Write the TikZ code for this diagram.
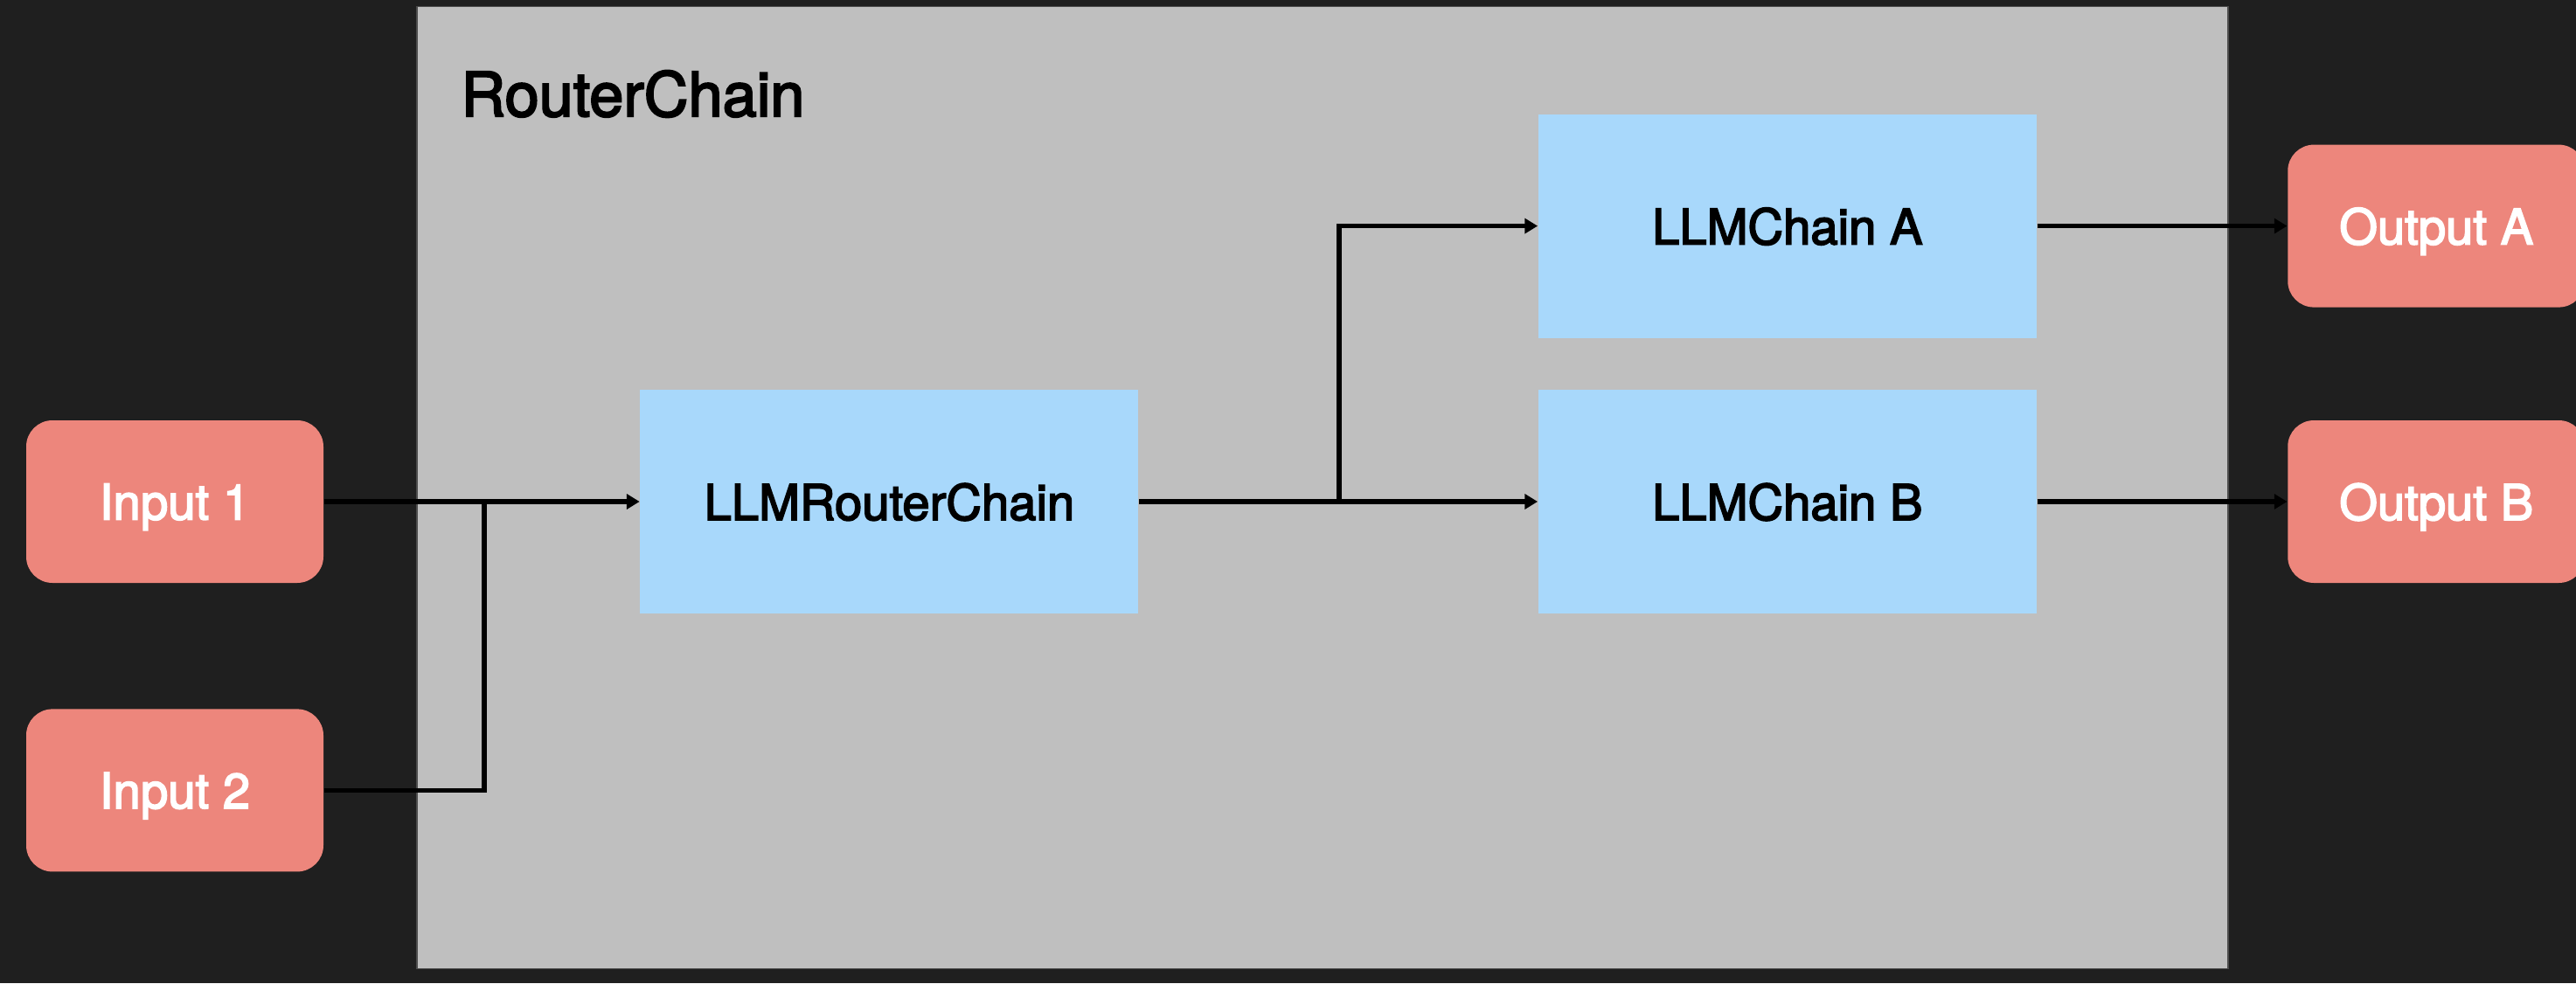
\documentclass[tikz,border=0pt]{standalone}
\usepackage{fontspec}
\setmainfont{TeX Gyre Heros}[FakeBold=3]
\usetikzlibrary{positioning,arrows.meta,calc}
\definecolor{bgdark}{RGB}{31,31,31}
\definecolor{boxgrey}{RGB}{191,191,191}
\definecolor{salmon}{RGB}{237,134,124}
\definecolor{chainblue}{RGB}{168,216,251}

\begin{document}
\begin{tikzpicture}[
    io/.style={fill=salmon, rounded corners=0.3cm, minimum width=3.4cm, minimum height=1.86cm, inner sep=0pt, text depth=0pt, text=white, font=\fontsize{16}{19}\selectfont},
    chain/.style={fill=chainblue, minimum width=5.7cm, minimum height=2.56cm, inner sep=0pt, text depth=0pt, font=\fontsize{16}{19}\selectfont},
    link/.style={line width=1.6pt},
    >={Triangle[length=4.2pt,width=4.8pt]}
  ]
  \fill[bgdark] (0,0) rectangle (29.47,11.25);
  \useasboundingbox (0,0) rectangle (29.47,11.25);
  \clip (0,0) rectangle (29.47,11.25);
  \node[fill=boxgrey, draw=black!70, line width=0.5pt, minimum width=20.72cm, minimum height=11.01cm, inner sep=0pt] (rc) at (15.13,5.67) {};
  \node[anchor=base west, font=\fontsize{20}{24}\selectfont] (rctitle) at ($(rc.north west)+(0.39,-1.265)$) {RouterChain};
  \node[io] (in1) at (2.00,5.51) {Input 1};
  \node[io, below=1.43cm of in1] (in2) {Input 2};
  \node[chain, right=3.61cm of in1] (router) {LLMRouterChain};
  \node[chain, right=4.56cm of router] (chainB) {LLMChain B};
  \node[chain, above=0.58cm of chainB] (chainA) {LLMChain A};
  \node[io, right=2.86cm of chainA] (outA) {Output A};
  \node[io, right=2.86cm of chainB] (outB) {Output B};
  \coordinate (merge) at ($(in1.east)+(1.83,0)$);
  \coordinate (split) at ($(router.east)+(2.29,0)$);
  \draw[link, ->] (in1) -- (router);
  \draw[link] (in2) -| (merge);
  \draw[link, ->] (router) -- (chainB);
  \draw[link, ->] (split) |- (chainA);
  \draw[link, ->] (chainA) -- (outA);
  \draw[link, ->] (chainB) -- (outB);
\end{tikzpicture}
\end{document}
